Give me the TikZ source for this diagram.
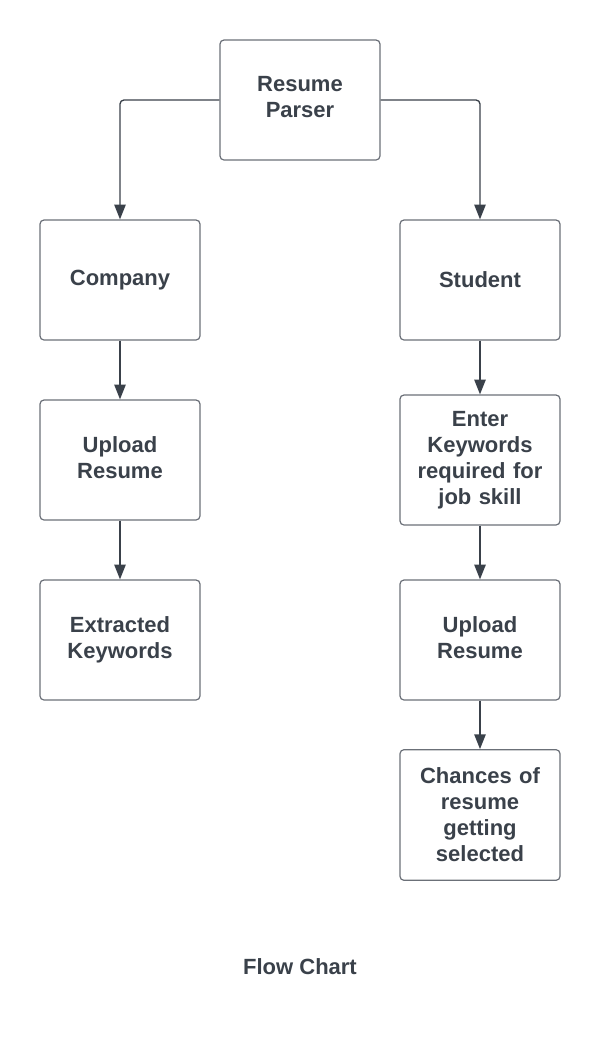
\documentclass[tikz,border=0pt]{standalone}
\usepackage{fontspec}
\setmainfont{Liberation Sans}
\usetikzlibrary{arrows.meta}
\definecolor{txt}{HTML}{3A414A}
\definecolor{bord}{HTML}{6B7078}
\begin{document}
\begin{tikzpicture}[x=0.75pt,y=-0.75pt,
  box/.style={draw=bord, line width=0.9pt, rounded corners=3pt,
    minimum width=120pt, minimum height=90pt, text width=112pt,
    align=center, inner sep=0pt, text=txt,
    font=\fontsize{16.5}{19.5}\selectfont\bfseries},
  tallbox/.style={box, minimum height=97.5pt},
  lift/.style={text depth=#1},
  conn/.style={draw=txt, line width=1pt, rounded corners=3pt,
    -{Triangle[length=11pt,width=8.5pt]}},
  lbl/.style={text=txt, font=\fontsize{16.5}{19.5}\selectfont\bfseries}]
  \useasboundingbox (0,0) rectangle (600,1040);
  \node[box, lift=24.5pt] (rp) at (300,100) {Resume\\Parser};
  \node[box] (comp) at (120,280) {Company};
  \node[box] (stud) at (480,280) {Student};
  \node[box, lift=23.5pt] (up1) at (120,460) {Upload\\Resume};
  \node[box] (ext) at (120,640) {Extracted\\Keywords};
  \node[tallbox] (ent) at (480,460) {Enter\\Keywords\\required for\\job skill};
  \node[box, lift=23.5pt] (up2) at (480,640) {Upload\\Resume};
  \node[tallbox, minimum height=98pt] (ch) at (480,815) {Chances of\\resume\\getting\\selected};
  \node[lbl] (title) at (300,967) {Flow Chart};
  \draw[conn] (rp.west) -| (comp.north);
  \draw[conn] (rp.east) -| (stud.north);
  \draw[conn] (comp) -- (up1);
  \draw[conn] (up1) -- (ext);
  \draw[conn] (stud) -- (ent);
  \draw[conn] (ent) -- (up2);
  \draw[conn] (up2) -- (ch);
\end{tikzpicture}
\end{document}
